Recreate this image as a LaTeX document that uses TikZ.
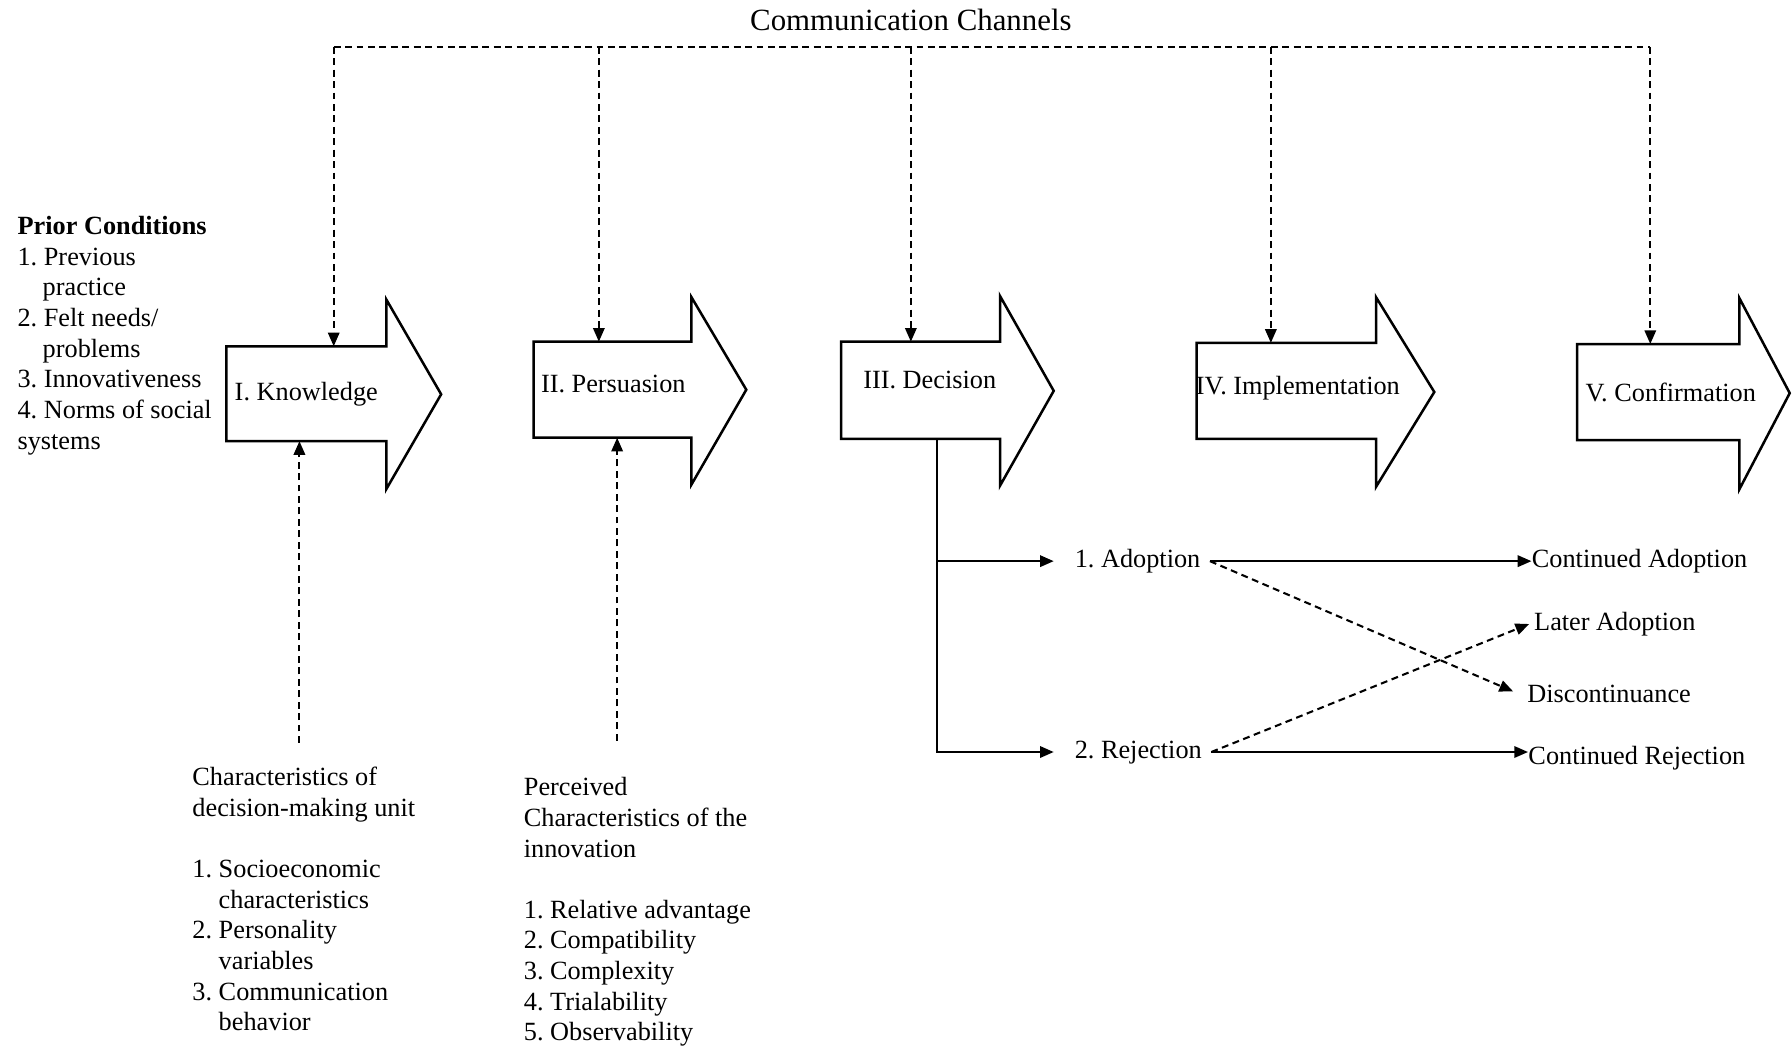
\documentclass[tikz,border=0pt]{standalone}
\usepackage{fontspec}
\setmainfont{Liberation Serif}
\frenchspacing
\usetikzlibrary{arrows.meta}
\begin{document}
\begin{tikzpicture}[x=0.5pt,y=-0.5pt,
  stage/.style={draw=black, line width=1.1pt, line join=miter, fill=white},
  lbl/.style={inner sep=0pt, font=\fontsize{11.5}{13.4}\selectfont, text height=8pt, text depth=2.5pt},
  ttl/.style={inner sep=0pt, font=\fontsize{13.5}{16}\selectfont, text height=9.5pt, text depth=3pt},
  blk/.style={inner sep=0pt, font=\fontsize{11.5}{13.4}\selectfont, align=left, anchor=north west},
  dsh/.style={line width=0.9pt, dash pattern=on 3pt off 2pt},
  dsharr/.style={dsh, -{Triangle[length=6pt,width=5pt]}},
  solarr/.style={line width=0.9pt, -{Triangle[length=6pt,width=5pt]}},
]
\useasboundingbox (0,0) rectangle (1568,916);

% title and channel line
\node[ttl] (title) at (797,20) {Communication Channels};
\coordinate (c1) at (292,41);
\coordinate (c2) at (524,41);
\coordinate (c3) at (797,41);
\coordinate (c4) at (1112,41);
\coordinate (c5) at (1444,41);
\draw[dsh] (c1) -- (c5);

% stage arrows
\draw[stage] (198,303) coordinate (k-nw) -- (338,303) -- (338,262) -- (386,345) -- (338,428) -- (338,386) -- (198,386) coordinate (k-sw) -- cycle;
\draw[stage] (467,299) coordinate (p-nw) -- (605,299) -- (605,260) -- (653,341) -- (605,424) -- (605,383) -- (467,383) coordinate (p-sw) -- cycle;
\draw[stage] (736,299) coordinate (d-nw) -- (875,299) -- (875,259) -- (922,342) -- (875,425) -- (875,384) -- (820,384) coordinate (d-out) -- (736,384) coordinate (d-sw) -- cycle;
\draw[stage] (1047,300) coordinate (i-nw) -- (1204,300) -- (1204,260) -- (1255,343) -- (1204,426) -- (1204,384) -- (1047,384) coordinate (i-sw) -- cycle;
\draw[stage] (1380,301) coordinate (f-nw) -- (1522,301) -- (1522,261) -- (1566,344) -- (1522,428) -- (1522,385) -- (1380,385) coordinate (f-sw) -- cycle;

\node[lbl, anchor=west] (know) at (205,345) {I. Knowledge};
\node[lbl, anchor=west] (pers) at (473,338) {II. Persuasion};
\node[lbl, anchor=west] (deci) at (755,334) {III. Decision};
\node[lbl, anchor=west] (impl) at (1046,340) {IV. Implementation};
\node[lbl, anchor=west] (conf) at (1387,346) {V. Confirmation};

% channel drops
\draw[dsharr] (c1) -- (c1 |- k-nw);
\draw[dsharr] (c2) -- (c2 |- p-nw);
\draw[dsharr] (c3) -- (c3 |- d-nw);
\draw[dsharr] (c4) -- (c4 |- i-nw);
\draw[dsharr] (c5) -- (c5 |- f-nw);

% text blocks
\node[blk] (prior) at (15,189) {\textbf{Prior Conditions}\\1. Previous\\\hspace*{11pt}practice\\2. Felt needs/\\\hspace*{11pt}problems\\3. Innovativeness\\4. Norms of social\\systems};
\node[blk] (dmu) at (168,671) {Characteristics of\\decision-making unit\\[13.4pt]1. Socioeconomic\\\hspace*{11.5pt}characteristics\\2. Personality\\\hspace*{11.5pt}variables\\3. Communication\\\hspace*{11.5pt}behavior};
\node[blk] (pci) at (458,680) {Perceived\\Characteristics of the\\innovation\\[13.4pt]1. Relative advantage\\2. Compatibility\\3. Complexity\\4. Trialability\\5. Observability};

\coordinate (u1) at (262,650);
\coordinate (u2) at (540,648);
\draw[dsharr] (u1) -- (u1 |- k-sw);
\draw[dsharr] (u2) -- (u2 |- p-sw);

% decision outcomes
\node[lbl, anchor=west] (adopt) at (940,491) {1. Adoption};
\node[lbl, anchor=west] (reject) at (940,658) {2. Rejection};
\draw[solarr] (d-out) |- ([xshift=-9pt]adopt.west);
\draw[solarr] (d-out) |- ([xshift=-9pt]reject.west);

\node[lbl, anchor=west] (cadopt) at (1340,491) {Continued Adoption};
\node[lbl, anchor=west] (later) at (1342,546) {Later Adoption};
\node[lbl, anchor=west] (disc) at (1336,609) {Discontinuance};
\node[lbl, anchor=west] (crej) at (1337,663) {Continued Rejection};

\draw[solarr] ([xshift=4pt]adopt.east) -- (cadopt.west);
\draw[solarr] ([xshift=4pt]reject.east) -- (reject.east -| crej.west);
\draw[dsharr] ([xshift=4pt]adopt.east) -- ([xshift=-6pt,yshift=2pt]disc.west);
\draw[dsharr] ([xshift=4pt]reject.east) -- ([xshift=-2pt]later.west);
\end{tikzpicture}
\end{document}
